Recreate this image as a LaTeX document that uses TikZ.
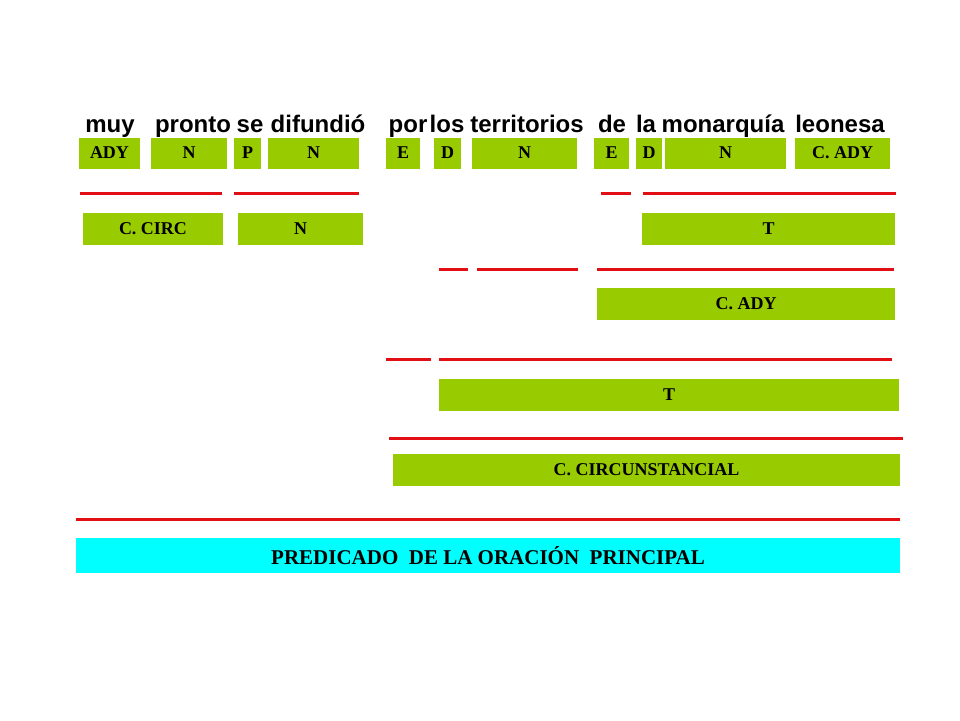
\documentclass[tikz,border=0pt]{standalone}
\usepackage{fontspec}
\setmainfont{Liberation Serif}
\newfontfamily\palabra{Liberation Sans}
\usetikzlibrary{positioning}
\definecolor{verde}{RGB}{153,204,0}
\definecolor{celeste}{RGB}{0,255,255}
\definecolor{rojo}{RGB}{225,15,20}

\begin{document}
\begin{tikzpicture}[x=1pt, y=-1pt,
    caja/.style={fill=verde, inner sep=0pt, minimum height=31pt, font=\fontsize{18}{20}\selectfont\bfseries},
    word/.style={anchor=base, inner sep=0pt, font=\palabra\fontsize{24}{26}\selectfont\bfseries},
    raya/.style={draw=rojo, line width=3pt}]
    \useasboundingbox (0,0) rectangle (960,720);

    % la oracion
    \node[word] (w1) at (110,132) {muy};
    \node[word] (w2) at (193,132) {pronto};
    \node[word] (w3) at (250,132) {se};
    \node[word] (w4) at (318,132) {difundió};
    \node[word] (w5) at (408,132) {por};
    \node[word] (w6) at (447,132) {los};
    \node[word] (w7) at (527,132) {territorios};
    \node[word] (w8) at (612,132) {de};
    \node[word] (w9) at (646,132) {la};
    \node[word] (w10) at (723,132) {monarquía};
    \node[word] (w11) at (840,132) {leonesa};

    % categorias
    \node[caja, minimum width=61pt] (ady) at (109.5,153) {ADY};
    \node[caja, minimum width=76pt] (n1) at (189,153) {N};
    \node[caja, minimum width=27pt] (p) at (247.5,153) {P};
    \node[caja, minimum width=91pt] (n2) at (313.5,153) {N};
    \node[caja, minimum width=34pt] (e1) at (403,153) {E};
    \node[caja, minimum width=27pt] (d1) at (447.5,153) {D};
    \node[caja, minimum width=105pt] (n3) at (524.5,153) {N};
    \node[caja, minimum width=35pt] (e2) at (611.5,153) {E};
    \node[caja, minimum width=26pt] (d2) at (649,153) {D};
    \node[caja, minimum width=121pt] (n4) at (725.5,153) {N};
    \node[caja, minimum width=95pt] (cady1) at (842.5,153) {C. ADY};

    \draw[raya] (80,193) -- (222,193);
    \draw[raya] (234,193) -- (359,193);
    \draw[raya] (601,193) -- (631,193);
    \draw[raya] (643,193) -- (896,193);

    \node[caja, minimum width=140pt, minimum height=32pt] (ccirc) at (153,229) {C. CIRC};
    \node[caja, minimum width=125pt, minimum height=32pt] (n5) at (300.5,229) {N};
    \node[caja, minimum width=253pt, minimum height=32pt] (t1) at (768.5,229) {T};

    \draw[raya] (439,269) -- (468,269);
    \draw[raya] (477,269) -- (578,269);
    \draw[raya] (597,269) -- (894,269);

    \node[caja, minimum width=298pt, minimum height=32pt] (cady2) at (746,304) {C. ADY};

    \draw[raya] (386,359) -- (431,359);
    \draw[raya] (439,359) -- (892,359);

    \node[caja, minimum width=460pt, minimum height=32pt] (t2) at (669,395) {T};

    \draw[raya] (389,438) -- (903,438);

    \node[caja, minimum width=507pt, minimum height=32pt] (cc) at (646.5,470) {C. CIRCUNSTANCIAL};

    \draw[raya] (76,519) -- (900,519);

    \node[caja, fill=celeste, minimum width=824pt, minimum height=35pt, font=\fontsize{21}{23}\selectfont\bfseries] (pred) at (488,555.5) {PREDICADO\ \ DE LA ORACIÓN\ \ PRINCIPAL};
\end{tikzpicture}
\end{document}
